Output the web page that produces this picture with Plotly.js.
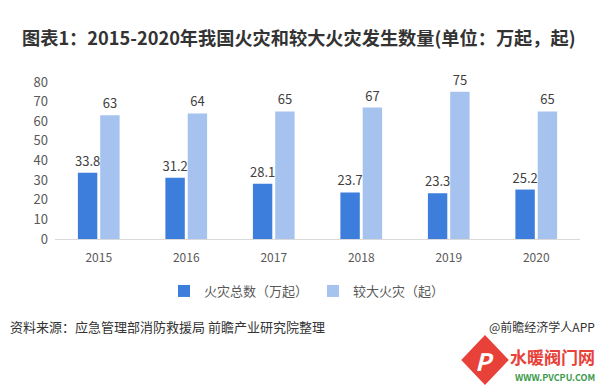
<!DOCTYPE html>
<html><head><meta charset="utf-8">
<script src="https://cdn.plot.ly/plotly-3.0.1.min.js"></script>
<style>body{margin:0;background:#fff}#c{width:600px;height:391px}</style>
</head><body><div id="c"></div>
<script>
const years = ['2015','2016','2017','2018','2019','2020'];
const totalFires = [33.8, 31.2, 28.1, 23.7, 23.3, 25.2];
const majorFires = [63, 64, 65, 67, 75, 65];
const seriesNames = ['火灾总数（万起）', '较大火灾（起）'];
const yTicks = [0,10,20,30,40,50,60,70,80];

const font = "'Microsoft YaHei','Noto Sans CJK SC','Noto Sans',sans-serif";
const traces = [
  {type:'bar', x:years, y:totalFires, name:seriesNames[0], marker:{color:'#3d7ddb'},
   text:totalFires.map(v=>v.toFixed(1)), textposition:'outside', cliponaxis:false,
   constraintext:'none', textfont:{size:13,color:'#404040'}},
  {type:'bar', x:years, y:majorFires, name:seriesNames[1], marker:{color:'#a6c3f0'},
   text:majorFires.map(String), textposition:'outside', cliponaxis:false,
   constraintext:'none', textfont:{size:13,color:'#404040'}}
];
const px = x => (x-55)/525;
const py = y => -(y-239)/157;
const layout = {
  width:600, height:391,
  margin:{l:55, r:20, t:82, b:152},
  paper_bgcolor:'#fff', plot_bgcolor:'#fff',
  font:{family:font, color:'#595959'},
  barmode:'group', bargap:0.49, bargroupgap:0.13,
  showlegend:true,
  legend:{orientation:'h', x:0.48, xanchor:'center', y:py(291), yanchor:'middle',
    font:{size:13,color:'#595959'}, itemwidth:30, traceorder:'normal'},
  xaxis:{type:'category', showline:true, linecolor:'#d9d9d9', linewidth:1,
    ticks:'', tickfont:{size:12,color:'#595959'}, showgrid:false, ticklabelstandoff:8},
  yaxis:{range:[0,80], tickvals:yTicks, showgrid:false, zeroline:false,
    showline:false, ticks:'', tickfont:{size:13,color:'#595959'}, ticklabelstandoff:6},
  title:{text:'<b>图表1：2015-2020年我国火灾和较大火灾发生数量(单位：万起，起)</b>',
    x:22/600, xanchor:'left', y:1-39/391, yanchor:'middle',
    font:{size:18.2,color:'#333333',family:font}},
  annotations:[
    {text:'资料来源：应急管理部消防救援局 前瞻产业研究院整理', xref:'paper', yref:'paper',
     x:px(8), xanchor:'left', y:py(326), yanchor:'middle', showarrow:false,
     font:{size:13,color:'#333333'}},
    {text:'@前瞻经济学人APP', xref:'paper', yref:'paper',
     x:px(597), xanchor:'right', y:py(326), yanchor:'middle', showarrow:false,
     font:{size:12,color:'#333333'}},
    {text:'<b>水暖阀门网</b>', xref:'paper', yref:'paper',
     x:px(597), xanchor:'right', y:py(356), yanchor:'middle', showarrow:false,
     font:{size:17,color:'#e8413a'}},
    {text:'<b>WWW.PVCPU.COM</b>', xref:'paper', yref:'paper',
     x:px(597), xanchor:'right', y:py(377), yanchor:'middle', showarrow:false,
     font:{size:9,color:'#3a9a4a'}},
    {text:'<b><i>P</i></b>', xref:'paper', yref:'paper',
     x:px(485), xanchor:'center', y:py(360), yanchor:'middle', showarrow:false,
     font:{size:24,color:'#ffffff'}}
  ],
  shapes:[
    {type:'path', xref:'paper', yref:'paper',
     path:'M '+px(485)+','+py(338)+' L '+px(506)+','+py(360)+' L '+px(485)+','+py(382)+' L '+px(464)+','+py(360)+' Z',
     fillcolor:'#e8413a', line:{color:'#e8413a',width:4}, layer:'below'}
  ]
};
Plotly.newPlot('c', traces, layout, {displayModeBar:false, staticPlot:true});
</script></body></html>
